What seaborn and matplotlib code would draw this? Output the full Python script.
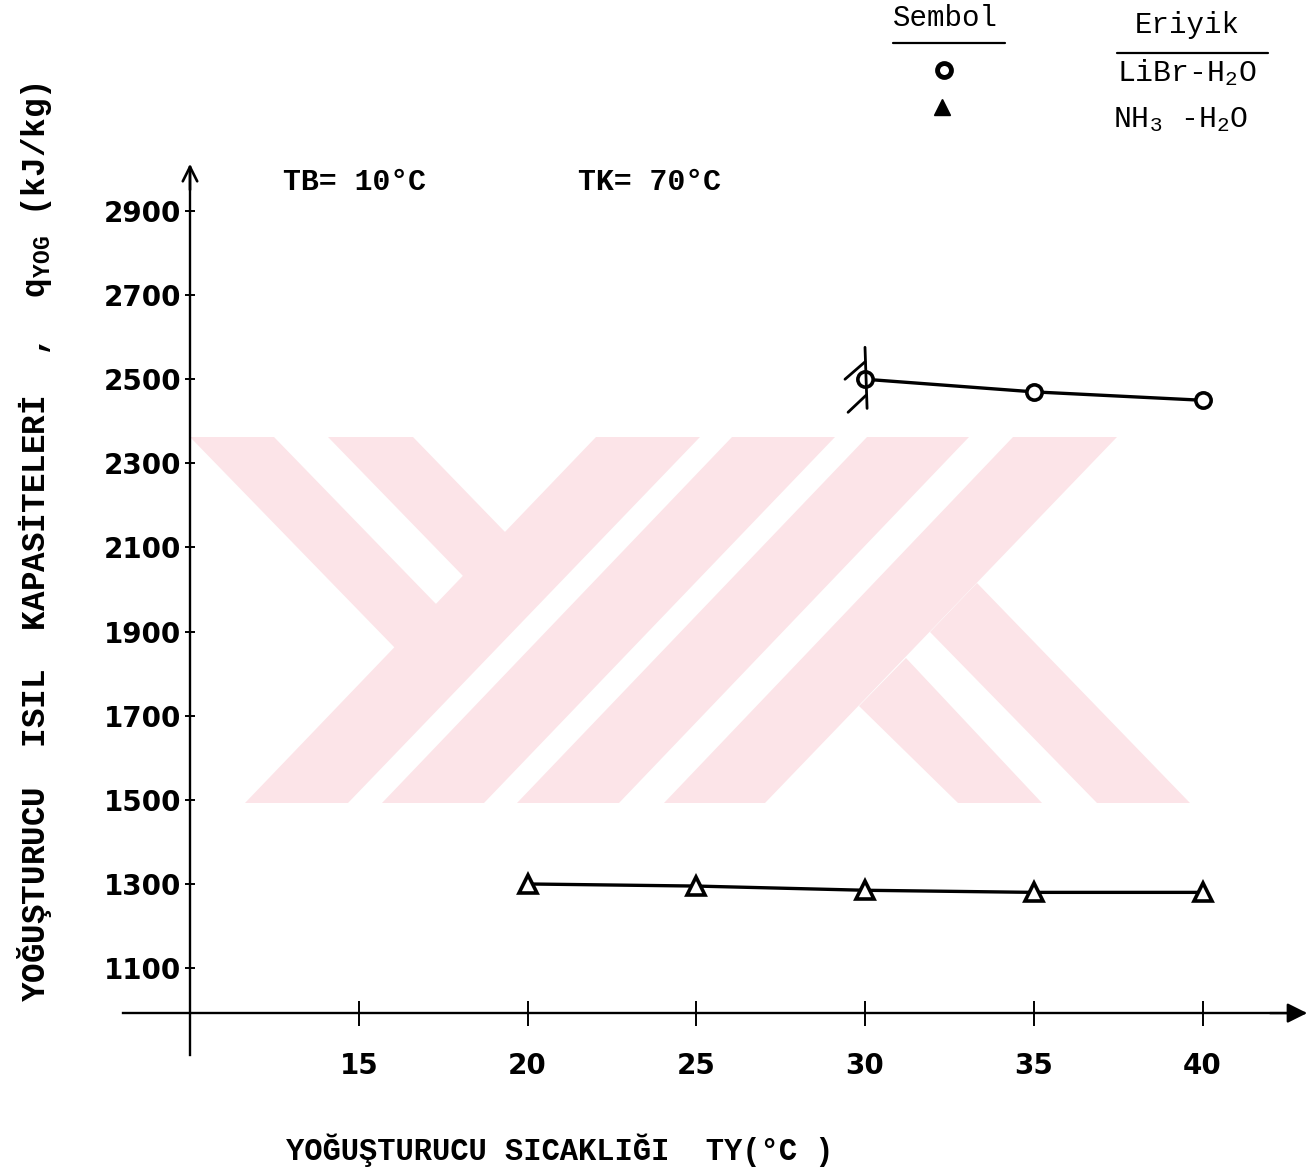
import matplotlib
matplotlib.use("Agg")
import matplotlib.pyplot as plt
import matplotlib.transforms as mtransforms
from matplotlib.patches import Polygon
from matplotlib.lines import Line2D
import seaborn as sns

# Condenser temperature TY (°C) and condenser heat load q_YOG (kJ/kg)
ty_libr = [30, 35, 40]
q_libr = [2500, 2470, 2450]
ty_nh3 = [20, 25, 30, 35, 40]
q_nh3 = [1300, 1295, 1285, 1280, 1280]

x_ticks = [15, 20, 25, 30, 35, 40]
y_ticks = [1100, 1300, 1500, 1700, 1900, 2100, 2300, 2500, 2700, 2900]

sns.set_theme(style="white")
plt.rcParams["font.family"] = ["DejaVu Sans"]
plt.rcParams["text.color"] = "black"
plt.rcParams["mathtext.fontset"] = "custom"
plt.rcParams["mathtext.rm"] = "Liberation Mono"
plt.rcParams["mathtext.it"] = "Liberation Mono"
plt.rcParams["mathtext.bf"] = "Liberation Mono:bold"

W, H = 1310, 1175
fig = plt.figure(figsize=(W / 100, H / 100), dpi=100)
fig.patch.set_facecolor("white")
ax = fig.add_axes([0, 0, 1, 1])
ax.set_facecolor("white")


def fpos(x, y):
    """Canvas pixel position (y from top) -> figure fraction."""
    return x / W, 1 - y / H


# background emblem stripes (canvas pixels)
emblem = [
    [(190, 437), (274, 437), (437, 605), (395, 648)],
    [(328, 437), (413, 437), (506, 533), (464, 577)],
    [(245, 803), (348, 803), (700, 437), (596, 437)],
    [(382, 803), (484, 803), (835, 437), (732, 437)],
    [(517, 803), (619, 803), (969, 437), (867, 437)],
    [(664, 803), (765, 803), (1117, 437), (1013, 437)],
    [(1097, 803), (1190, 803), (977, 583), (930, 632)],
    [(958, 803), (1042, 803), (906, 658), (859, 706)],
]
for poly in emblem:
    ax.add_patch(Polygon([fpos(x, y) for x, y in poly], closed=True,
                         transform=ax.transAxes, facecolor="#fce4e8",
                         edgecolor="none", zorder=0.5))

line_kw = dict(color="black", linewidth=2.4, markerfacecolor="white",
               markeredgecolor="black", markeredgewidth=2.6, zorder=4)
sns.lineplot(x=ty_libr, y=q_libr, ax=ax, marker="o", markersize=11, **line_kw)
sns.lineplot(x=ty_nh3, y=q_nh3, ax=ax, marker="^", markersize=13, **line_kw)

# axis scale: 33.75 px per °C with TY=10 at x=190 px; 0.4206 px per kJ/kg
ax.set_xlim(10 - 190 / 33.75, 10 + (W - 190) / 33.75)
ax.set_ylim(2900 - (H - 211) / 0.4206, 2900 + 211 / 0.4206)
ax.set_xlabel("")
ax.set_ylabel("")

for s in ["top", "right"]:
    ax.spines[s].set_visible(False)
ax.spines["left"].set_position(("data", 10))
ax.spines["left"].set_bounds(893, 3005)
ax.spines["bottom"].set_position(("data", 993))
ax.spines["bottom"].set_bounds(8.0, 43.0)
for s in ["left", "bottom"]:
    ax.spines[s].set_color("black")
    ax.spines[s].set_linewidth(1.7)
    ax.spines[s].set_zorder(3)

ax.set_xticks(x_ticks)
ax.set_yticks(y_ticks)
ax.tick_params(axis="x", direction="inout", length=18, width=1.4, pad=19,
               labelsize=20, colors="black", bottom=True)
ax.tick_params(axis="y", direction="inout", length=7, width=1.4, pad=3,
               labelsize=20, colors="black", left=True)
for lab in ax.get_xticklabels() + ax.get_yticklabels():
    lab.set_fontweight("bold")

# arrow heads on both axes
ax.annotate("", xy=(43.1, 993), xytext=(42.0, 993), annotation_clip=False,
            arrowprops=dict(arrowstyle="-|>", color="black", lw=1.7,
                            mutation_scale=30, shrinkA=0, shrinkB=0))
ax.annotate("", xy=(10, 3012), xytext=(10, 2950), annotation_clip=False,
            arrowprops=dict(arrowstyle="->", color="black", lw=1.9,
                            mutation_scale=26, shrinkA=0, shrinkB=0))

# break mark where the LiBr-H2O curve starts
brk = mtransforms.Affine2D().scale(fig.dpi / 72.0) + \
    mtransforms.ScaledTranslation(ty_libr[0], q_libr[0], ax.transData)
for xs, ys in [([0, 1.5], [23, -21]), ([-14.4, 0], [0, 12.5]),
               ([-12.2, 0.8], [-23.8, -11.5])]:
    ax.add_line(Line2D(xs, ys, transform=brk, color="black", lw=2.0, zorder=5))

mono = "Liberation Mono"
fig.text(*fpos(283, 182), "TB= 10°C", family=mono, weight="bold", size=21.5,
         ha="left", va="center", color="black")
fig.text(*fpos(578, 182), "TK= 70°C", family=mono, weight="bold", size=21.5,
         ha="left", va="center", color="black")

# symbol table in the upper right corner
fig.text(*fpos(893, 18), "Sembol", family=mono, size=21, ha="left",
         va="center", color="black")
fig.text(*fpos(1135, 25), "Eriyik", family=mono, size=21, ha="left",
         va="center", color="black")
fig.add_artist(Line2D([893 / W, 1005 / W], [1 - 43 / H] * 2,
                      transform=fig.transFigure, color="black", lw=1.6))
fig.add_artist(Line2D([1117 / W, 1268 / W], [1 - 53 / H] * 2,
                      transform=fig.transFigure, color="black", lw=1.6))
fig.add_artist(Line2D([944 / W], [1 - 70 / H], marker="o", markersize=10,
                      markerfacecolor="white", markeredgecolor="black",
                      markeredgewidth=3.5, transform=fig.transFigure))
fig.add_artist(Line2D([942 / W], [1 - 107 / H], marker="^", markersize=11,
                      markerfacecolor="black", markeredgecolor="black",
                      transform=fig.transFigure))
fig.text(*fpos(1117, 73), r"LiBr-H$_2$O", family=mono, size=21.5,
         ha="left", va="center", color="black")
fig.text(*fpos(1113, 120), r"NH$_3$ -H$_2$O", family=mono, size=21.5,
         ha="left", va="center", color="black")

fig.text(*fpos(35, 542),
         r"YOĞUŞTURUCU  ISIL  KAPASİTELERİ  ,  q$_{\mathbf{YOG}}$ (kJ/kg)",
         family=mono, weight="bold", size=23.5, rotation=90,
         ha="center", va="center", color="black")
fig.text(*fpos(560, 1150), "YOĞUŞTURUCU SICAKLIĞI  TY(°C )", family=mono,
         weight="bold", size=22, ha="center", va="center", color="black")

fig.savefig("out.png", dpi=100, facecolor="white")
